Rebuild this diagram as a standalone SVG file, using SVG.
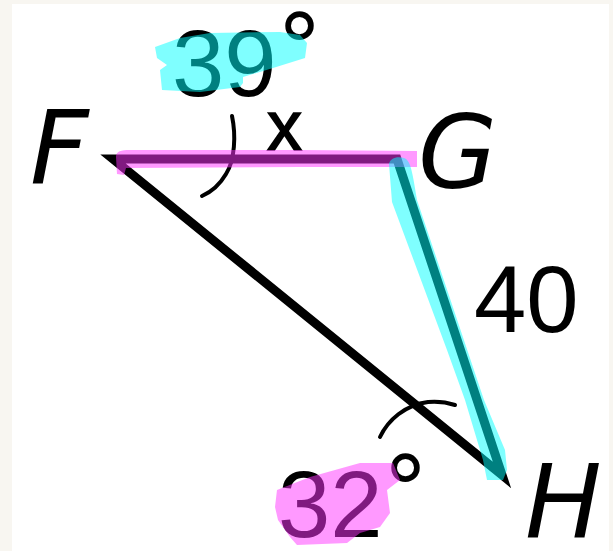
<svg xmlns="http://www.w3.org/2000/svg" width="613" height="551" viewBox="0 0 613 551">
  <style>
    .lbl { font-family: "Liberation Sans", "DejaVu Sans", sans-serif; fill: #000; }
    .deg { font-family: "DejaVu Sans", "Liberation Sans", sans-serif; }
    .vtx { font-family: "DejaVu Sans", "Liberation Sans", sans-serif; font-style: oblique; fill: #000; }
    .edge { fill: none; stroke: #000; stroke-width: 9; stroke-linejoin: miter; stroke-miterlimit: 20; }
    .arc { fill: none; stroke: #000; stroke-width: 4; stroke-linecap: round; }
    .hl-m { fill: #ff33ff; opacity: 0.5; }
    .hl-c { fill: #00ffff; opacity: 0.5; }
  </style>
  <rect x="0" y="0" width="613" height="551" fill="#f8f6f1"/>
  <rect x="12" y="4" width="597" height="547" fill="#ffffff"/>

  <g id="connectors">
    <path id="triangle" class="edge" d="M 113 159 L 397 159 L 502 475 Z"/>
    <path id="angle-F" class="arc" d="M 232 116 C 236 135 235 160 226 174 C 219 186 211 192 202 196"/>
    <path id="angle-H" class="arc" d="M 380 437 C 388 420 405 405 428 402 C 440 401 449 403 455 405"/>
  </g>

  <g id="node-F"><text class="vtx" x="30" y="183" font-size="102">F</text></g>
  <g id="node-G"><text class="vtx" x="418" y="188" font-size="102">G</text></g>
  <g id="node-H"><text class="vtx" x="525" y="537" font-size="102">H</text></g>

  <g id="label-39"><text class="lbl" x="172" y="96" font-size="94">39<tspan class="deg" dy="-16" font-size="92">°</tspan></text></g>
  <g id="label-32"><text class="lbl" x="278" y="537" font-size="94">32<tspan class="deg" dy="-15" font-size="92">°</tspan></text></g>
  <g id="label-40"><text class="lbl" x="474" y="332" font-size="94">40</text></g>
  <g id="label-x"><text class="lbl" x="267" y="150" font-size="70" font-family="DejaVu Sans" font-weight="200" stroke="#000" stroke-width="1.6">x</text></g>

  <g id="highlights">
    <path id="hl-FG" class="hl-m" d="M 116 157 C 116 151 121 150 130 150 L 300 150 L 417 151 L 417 167 L 300 167 L 126 168 L 124 175 L 117 174 Z"/>
    <path id="hl-GH" class="hl-c" d="M 389 164 C 390 158 397 156 404 158 C 410 160 412 168 417 200 L 484 400 L 505 450 L 507 470 L 503 480 L 487 480 L 483 460 L 465 400 L 447 350 L 392 202 Z"/>
    <path id="hl-39" class="hl-c" d="M 155 47 L 180 38 L 210 33 L 280 32 L 300 35 L 307 43 L 305 58 L 273 68 L 243 77 L 243 83 L 240 87 L 200 92 L 162 90 L 160 70 L 167 65 L 157 58 Z"/>
    <path id="hl-32" class="hl-m" d="M 277 490 L 310 477 L 360 463 L 393 463 L 400 480 L 387 490 L 390 513 L 380 527 L 360 533 L 347 543 L 297 545 L 290 537 L 278 520 L 275 507 Z"/>
  </g>
</svg>
